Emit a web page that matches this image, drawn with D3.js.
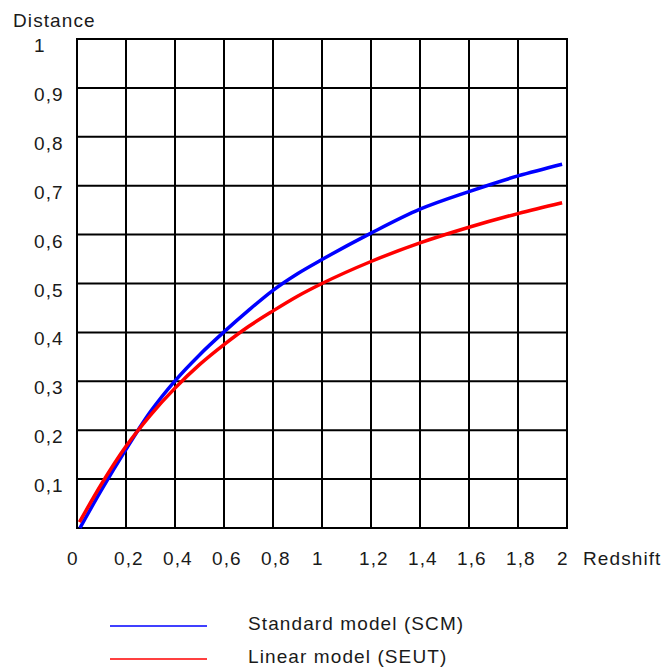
<!DOCTYPE html>
<html lang="en">
<head>
<meta charset="UTF-8">
<title>Distance vs Redshift</title>
<script src="https://d3js.org/d3.v7.min.js"></script>
<style>
  body { margin: 0; background: #fff; }
  text { font-family: "Liberation Sans", Arial, sans-serif; font-size: 19px; fill: #1a1a1a; letter-spacing: 1.1px; }
</style>
</head>
<body>
<script>
// data
const xTicks = [0, 0.2, 0.4, 0.6, 0.8, 1, 1.2, 1.4, 1.6, 1.8, 2];
const yTicks = [0.1, 0.2, 0.3, 0.4, 0.5, 0.6, 0.7, 0.8, 0.9, 1];

const scmZ = [0.012, 0.1, 0.2, 0.3, 0.4, 0.5, 0.6, 0.7, 0.8, 0.9, 1.0, 1.2, 1.4, 1.6, 1.8, 1.98];
const scmD = [0.0, 0.078, 0.161, 0.238, 0.301, 0.354, 0.401, 0.445, 0.486, 0.52, 0.549, 0.603, 0.652, 0.688, 0.72, 0.744];

const seutZ = [0.01, 0.1, 0.2, 0.3, 0.4, 0.5, 0.6, 0.7, 0.8, 0.9, 1.0, 1.2, 1.4, 1.6, 1.8, 1.98];
const seutD = [0.012, 0.09, 0.167, 0.231, 0.286, 0.334, 0.375, 0.412, 0.444, 0.474, 0.5, 0.545, 0.583, 0.615, 0.643, 0.665];

const legendNames = ["Standard model (SCM)", "Linear model (SEUT)"];
const colors = ["#0000ff", "#ff0000"];

const width = 666, height = 667;

const svg = d3.select("body").append("svg")
    .attr("width", width)
    .attr("height", height);

const x = d3.scaleLinear().domain([0, 2]).range([77, 567]);
const y = d3.scaleLinear().domain([0, 1]).range([528, 39]);

const fmt = d => String(d).replace(".", ",");

// grid
const grid = svg.append("g").attr("stroke", "#000").attr("stroke-width", 2);
grid.selectAll("line.v")
    .data(xTicks)
    .enter().append("line")
    .attr("x1", d => x(d)).attr("x2", d => x(d))
    .attr("y1", y(1)).attr("y2", y(0));
grid.selectAll("line.h")
    .data([0].concat(yTicks))
    .enter().append("line")
    .attr("x1", x(0) - 1).attr("x2", x(2) + 1)
    .attr("y1", d => y(d)).attr("y2", d => y(d));

// tick labels
svg.append("g").selectAll("text")
    .data(xTicks)
    .enter().append("text")
    .attr("x", d => x(d) - (d === 0 || d === 1 || d === 2 ? 10 : 12))
    .attr("y", 565)
    .text(fmt);

svg.append("g").selectAll("text")
    .data(yTicks)
    .enter().append("text")
    .attr("x", 34)
    .attr("y", d => y(d) + 13)
    .text(fmt);

svg.append("text").attr("x", 13).attr("y", 27).text("Distance");
svg.append("text").attr("x", 583).attr("y", 565).text("Redshift");

// curves
const series = [
    scmZ.map((z, i) => [z, scmD[i]]),
    seutZ.map((z, i) => [z, seutD[i]])
];
const line = d3.line()
    .x(d => x(d[0]))
    .y(d => y(d[1]))
    .curve(d3.curveMonotoneX);

svg.append("g").selectAll("path")
    .data(series)
    .enter().append("path")
    .attr("d", line)
    .attr("fill", "none")
    .attr("stroke", (d, i) => colors[i])
    .attr("stroke-width", 3.5);

// legend
const legend = svg.append("g").selectAll("g")
    .data(legendNames)
    .enter().append("g")
    .attr("transform", (d, i) => `translate(0, ${626 + i * 33})`);
legend.append("line")
    .attr("x1", 110).attr("x2", 207)
    .attr("stroke", (d, i) => colors[i])
    .attr("stroke-width", 1.5);
legend.append("text")
    .attr("x", 248)
    .attr("y", 4)
    .text(d => d);
</script>
</body>
</html>
